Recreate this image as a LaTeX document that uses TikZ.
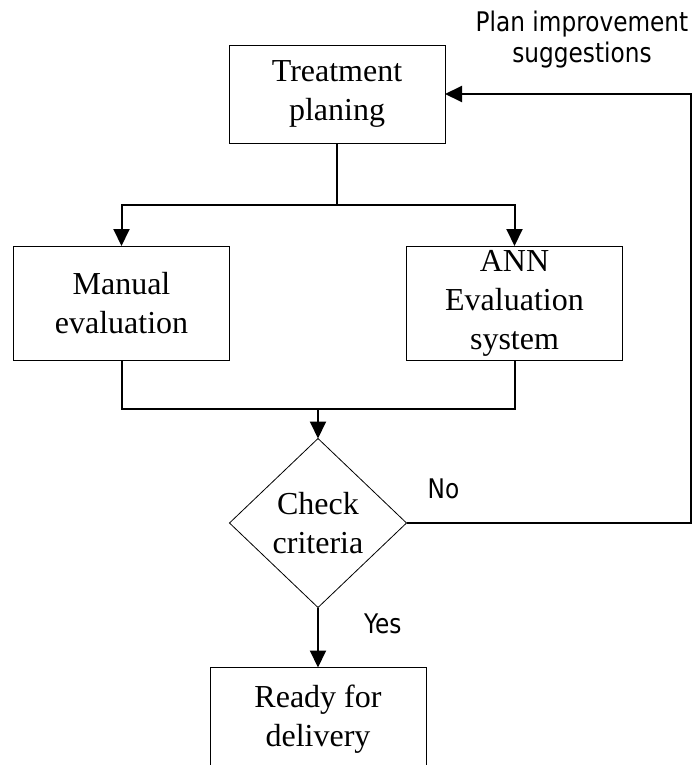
\documentclass[tikz,border=0pt]{standalone}
\usepackage{fontspec}
\setmainfont{Liberation Serif}
\newfontfamily\labelfont[FakeStretch=0.86]{DejaVu Sans}
\usetikzlibrary{shapes.geometric, arrows.meta, positioning}

\begin{document}
\begin{tikzpicture}[
  x=1pt, y=-1pt,
  node distance=60pt and 177pt,
  block/.style={rectangle, draw, line width=0.8pt, minimum width=216pt,
    minimum height=114pt, inner sep=0pt, outer sep=0pt,
    font=\fontsize{32}{39}\selectfont, align=center},
  decide/.style={diamond, draw, line width=0.8pt, minimum width=177pt,
    minimum height=169pt, inner sep=0pt, outer sep=0pt,
    font=\fontsize{32}{39}\selectfont, align=center},
  lbl/.style={font=\labelfont\fontsize{27}{31}\selectfont, inner sep=0pt},
  conn/.style={line width=2pt},
  arr/.style={conn, -{Triangle[length=17pt, width=16pt]}}
]
  \useasboundingbox (0,0) rectangle (696,765);

  \node[block, minimum height=98pt] (treat) at (337,94) {Treatment\\planing};
  \node[block] (manual) at (121.5,303) {Manual\\evaluation};
  \node[block, right=of manual] (ann) {ANN\\Evaluation\\system};
  \node[decide] (check) at (318,523) {Check\\criteria};
  \node[block, minimum height=103pt, below=of check] (ready) {Ready for\\delivery};

  \node[lbl, align=center] (plan) at (582,40) {Plan improvement\\suggestions};

  % split to both evaluations
  \coordinate (split) at ([yshift=-62pt]treat.south);
  \draw[arr] (treat.south) -- (split) -| (manual.north);
  \draw[arr] (split) -| (ann.north);

  % join into the check
  \coordinate (join) at ([yshift=-49pt]manual.south -| check.north);
  \draw[conn] (manual.south) |- (join) -| (ann.south);
  \draw[arr] (join) -- (check.north);

  \draw[arr] (check.east) -- node[lbl, pos=0.13, above=23pt]{No} ++(284,0)
    |- (treat.east);
  \draw[arr] (check.south) -- node[lbl, pos=0.27, right=45pt]{Yes} (ready.north);
\end{tikzpicture}
\end{document}
